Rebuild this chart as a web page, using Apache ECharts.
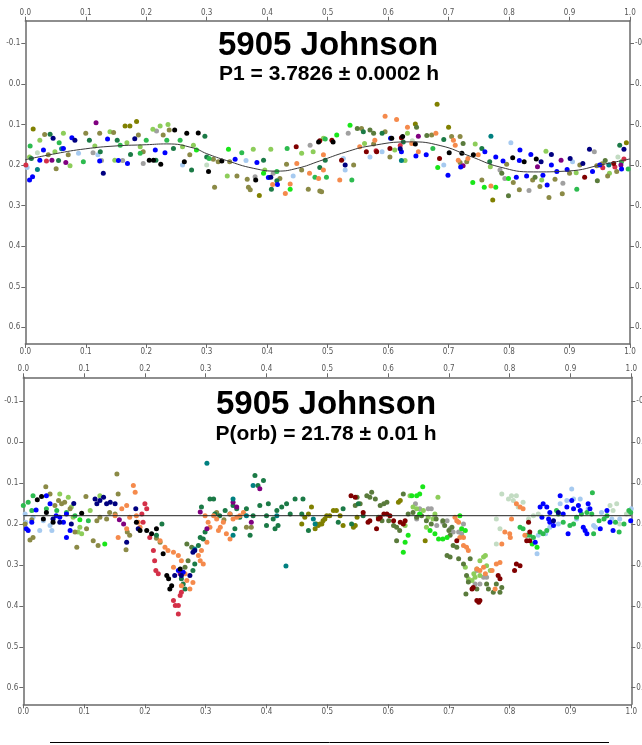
<!DOCTYPE html>
<html>
<head>
<meta charset="utf-8">
<title>5905 Johnson</title>
<script src="https://cdn.jsdelivr.net/npm/echarts@6/dist/echarts.min.js"></script>
<style>
  html, body { margin: 0; padding: 0; background: #fff; }
  #chart { width: 642px; height: 745px; }
</style>
</head>
<body>
<div id="chart"></div>
<script type="text/javascript">
// tick labels
var xTicks = [0, 0.1, 0.2, 0.3, 0.4, 0.5, 0.6, 0.7, 0.8, 0.9, 1.0];
var yTicks = [-0.1, 0, 0.1, 0.2, 0.3, 0.4, 0.5, 0.6];

// ---- upper plot: rotation period (phase, magnitude) per session colour
var topBlue = [[0.007,0.237],[0.012,0.229],[0.024,0.188],[0.03,0.163],[0.063,0.159],[0.077,0.133],[0.123,0.19],[0.136,0.136],[0.154,0.189],[0.169,0.196],[0.215,0.163],[0.231,0.17],[0.347,0.186],[0.383,0.194],[0.402,0.231],[0.417,0.248],[0.604,0.134],[0.622,0.167],[0.646,0.178],[0.663,0.175],[0.699,0.225],[0.76,0.167],[0.778,0.18],[0.812,0.23],[0.817,0.189],[0.818,0.163],[0.829,0.227],[0.836,0.174],[0.856,0.225],[0.863,0.249],[0.879,0.216],[0.896,0.211],[0.938,0.216],[0.986,0.21],[0.72,0.205],[0.79,0.19],[0.87,0.2],[0.95,0.2]];
var topNavy = [[0.046,0.134],[0.082,0.139],[0.129,0.22],[0.181,0.135],[0.406,0.23],[0.529,0.2],[0.853,0.192],[0.87,0.174],[0.901,0.184],[0.922,0.196],[0.933,0.161],[0.99,0.161],[0.62,0.16]];
var topBlack = [[0.205,0.188],[0.212,0.188],[0.224,0.198],[0.247,0.114],[0.263,0.192],[0.267,0.122],[0.286,0.121],[0.303,0.216],[0.325,0.19],[0.381,0.237],[0.485,0.143],[0.509,0.143],[0.606,0.134],[0.624,0.13],[0.645,0.148],[0.701,0.17],[0.722,0.171],[0.741,0.175],[0.806,0.182],[0.825,0.192],[0.845,0.185]];
var topGreen = [[0.008,0.153],[0.056,0.145],[0.096,0.192],[0.157,0.151],[0.19,0.171],[0.2,0.139],[0.234,0.139],[0.256,0.139],[0.304,0.184],[0.358,0.17],[0.416,0.216],[0.433,0.159],[0.479,0.23],[0.496,0.136],[0.498,0.23],[0.54,0.237],[0.674,0.159],[0.912,0.26],[0.986,0.192],[0.997,0.21]];
var topLime = [[0.515,0.126],[0.537,0.102],[0.682,0.206],[0.74,0.243],[0.759,0.255],[0.778,0.255],[0.799,0.233],[0.283,0.163],[0.336,0.161],[0.394,0.22],[0.438,0.26]];
var topDkgreen = [[0.01,0.184],[0.041,0.124],[0.055,0.189],[0.106,0.139],[0.124,0.167],[0.152,0.139],[0.174,0.174],[0.216,0.188],[0.245,0.159],[0.297,0.129],[0.275,0.212],[0.3,0.18],[0.394,0.188],[0.416,0.239],[0.407,0.26],[0.487,0.206],[0.496,0.188],[0.559,0.118],[0.59,0.122],[0.625,0.143],[0.692,0.137],[0.755,0.159],[0.768,0.192],[0.983,0.151]];
var topOlivegreen = [[0.549,0.11],[0.57,0.114],[0.576,0.122],[0.647,0.107],[0.664,0.127],[0.724,0.147],[0.788,0.22],[0.799,0.276],[0.843,0.23],[0.946,0.239],[0.959,0.189]];
var topOlive = [[0.165,0.104],[0.173,0.104],[0.184,0.093],[0.013,0.111],[0.681,0.05],[0.7,0.107],[0.645,0.099],[0.994,0.145],[0.773,0.286],[0.387,0.275]];
var topKhaki = [[0.032,0.125],[0.038,0.175],[0.051,0.209],[0.071,0.175],[0.1,0.122],[0.123,0.122],[0.146,0.12],[0.187,0.126],[0.195,0.167],[0.228,0.126],[0.238,0.114],[0.272,0.175],[0.311,0.186],[0.313,0.255],[0.319,0.192],[0.338,0.192],[0.35,0.227],[0.367,0.235],[0.369,0.255],[0.372,0.261],[0.421,0.233],[0.432,0.198],[0.457,0.212],[0.468,0.26],[0.487,0.264],[0.49,0.266],[0.543,0.2],[0.556,0.11],[0.576,0.148],[0.595,0.118],[0.603,0.18],[0.672,0.126],[0.705,0.13],[0.719,0.13],[0.719,0.194],[0.73,0.192],[0.755,0.237],[0.796,0.198],[0.817,0.261],[0.807,0.243],[0.839,0.237],[0.851,0.253],[0.866,0.28],[0.876,0.235],[0.888,0.271],[0.9,0.22],[0.917,0.2],[0.945,0.202],[0.954,0.197],[0.963,0.227],[0.978,0.216]];
var topLtgreen = [[0.007,0.18],[0.024,0.139],[0.049,0.167],[0.063,0.122],[0.074,0.202],[0.115,0.153],[0.14,0.118],[0.148,0.188],[0.168,0.145],[0.19,0.155],[0.211,0.112],[0.223,0.104],[0.236,0.1],[0.26,0.155],[0.278,0.151],[0.334,0.227],[0.377,0.161],[0.396,0.212],[0.406,0.161],[0.457,0.171],[0.476,0.167],[0.493,0.134],[0.561,0.147],[0.611,0.163],[0.628,0.189],[0.632,0.122],[0.744,0.148],[0.769,0.204],[0.854,0.237],[0.861,0.166],[0.911,0.219],[0.966,0.22]];
var topLtblue = [[0.003,0.206],[0.088,0.171],[0.365,0.189],[0.443,0.227],[0.526,0.184],[0.529,0.212],[0.57,0.18],[0.59,0.167],[0.692,0.2],[0.803,0.145],[0.905,0.192],[0.26,0.2],[0.12,0.175]];
var topGray = [[0.112,0.17],[0.126,0.189],[0.161,0.189],[0.195,0.196],[0.217,0.116],[0.38,0.229],[0.471,0.151],[0.534,0.122],[0.785,0.212],[0.793,0.233],[0.833,0.263],[0.889,0.245],[0.941,0.167],[0.41,0.22]];
var topPale = [[0.02,0.17],[0.3,0.2],[0.64,0.14],[0.98,0.18]];
var topOrange = [[0.409,0.248],[0.438,0.247],[0.449,0.196],[0.485,0.233],[0.493,0.212],[0.493,0.175],[0.52,0.237],[0.553,0.155],[0.578,0.139],[0.595,0.08],[0.614,0.088],[0.632,0.107],[0.639,0.147],[0.65,0.167],[0.679,0.122],[0.708,0.139],[0.711,0.151],[0.716,0.188],[0.732,0.184],[0.749,0.175],[0.77,0.252],[0.47,0.22],[0.43,0.27]];
var topRed = [[0.001,0.2],[0.035,0.19],[0.58,0.165],[0.62,0.152],[0.955,0.207],[0.975,0.205],[0.99,0.185]];
var topDkred = [[0.448,0.155],[0.487,0.14],[0.507,0.139],[0.523,0.188],[0.564,0.167],[0.581,0.167],[0.603,0.159],[0.622,0.133],[0.685,0.184],[0.925,0.23],[0.973,0.196]];
var topPurple = [[0.044,0.188],[0.067,0.194],[0.117,0.096],[0.65,0.129],[0.724,0.202],[0.847,0.204],[0.886,0.188],[0.985,0.2]];
var topTeal = [[0.02,0.211],[0.622,0.189],[0.77,0.129],[0.965,0.2],[0.06,0.16]];
// fitted curve
var topFit = [[0,0.187],[0.05,0.172],[0.1,0.16],[0.15,0.153],[0.2,0.15],[0.234,0.148],[0.278,0.158],[0.3,0.172],[0.333,0.189],[0.377,0.208],[0.416,0.215],[0.45,0.208],[0.487,0.19],[0.53,0.168],[0.57,0.153],[0.636,0.143],[0.686,0.152],[0.735,0.178],[0.785,0.205],[0.84,0.217],[0.895,0.215],[0.96,0.197],[1.0,0.185]];

// ---- lower plot: orbital period
var botLtblue = [[0.003,0.176],[0.004,0.196],[0.016,0.184],[0.027,0.216],[0.044,0.204],[0.047,0.216],[0.049,0.188],[0.033,0.192],[0.845,0.273],[0.847,0.228],[0.859,0.224],[0.866,0.208],[0.883,0.151],[0.894,0.143],[0.902,0.115],[0.905,0.139],[0.91,0.188],[0.916,0.139],[0.929,0.163],[0.938,0.204],[0.941,0.208],[0.951,0.172],[0.957,0.184],[0.968,0.188],[0.981,0.188],[1.0,0.163],[0.88,0.2]];
var botBlue = [[0.005,0.212],[0.008,0.216],[0.014,0.196],[0.021,0.166],[0.038,0.131],[0.044,0.151],[0.054,0.18],[0.06,0.184],[0.066,0.196],[0.071,0.176],[0.077,0.216],[0.071,0.233],[0.255,0.314],[0.263,0.318],[0.85,0.159],[0.855,0.151],[0.861,0.159],[0.866,0.172],[0.853,0.184],[0.864,0.188],[0.872,0.204],[0.866,0.196],[0.883,0.131],[0.888,0.176],[0.896,0.224],[0.894,0.159],[0.902,0.143],[0.905,0.163],[0.913,0.155],[0.916,0.167],[0.921,0.208],[0.924,0.216],[0.927,0.224],[0.929,0.151],[0.932,0.163],[0.949,0.212],[0.96,0.167],[0.965,0.196],[0.97,0.216],[0.999,0.192],[0.842,0.245]];
var botNavy = [[0.049,0.188],[0.06,0.196],[0.083,0.15],[0.079,0.2],[0.118,0.139],[0.126,0.143],[0.132,0.135],[0.137,0.151],[0.143,0.147],[0.151,0.151],[0.121,0.151],[0.17,0.245],[0.185,0.163],[0.189,0.212],[0.249,0.326],[0.26,0.326],[0.274,0.326],[0.279,0.269],[0.282,0.265],[0.872,0.192],[0.88,0.172]];
var botBlack = [[0.023,0.141],[0.03,0.133],[0.038,0.172],[0.033,0.188],[0.096,0.174],[0.049,0.196],[0.186,0.196],[0.192,0.216],[0.203,0.216],[0.211,0.224],[0.219,0.212],[0.23,0.273],[0.236,0.326],[0.239,0.334],[0.244,0.351],[0.241,0.359],[0.258,0.31]];
var botGreen = [[0,0.155],[0.008,0.147],[0.016,0.131],[0.014,0.167],[0.038,0.163],[0.055,0.167],[0.071,0.172],[0.085,0.18],[0.107,0.192],[0.839,0.233],[0.85,0.22],[0.855,0.224],[0.861,0.216],[0.877,0.167],[0.88,0.176],[0.888,0.196],[0.899,0.204],[0.905,0.2],[0.91,0.184],[0.918,0.176],[0.927,0.172],[0.935,0.176],[0.936,0.124],[0.938,0.224],[0.947,0.192],[0.955,0.188],[0.96,0.18],[0.974,0.196],[0.98,0.22],[0.988,0.2],[0.996,0.167],[0.999,0.172],[0.817,0.208],[0.828,0.228],[0.833,0.228],[0.822,0.212]];
var botLime = [[0.134,0.249],[0.093,0.19],[0.628,0.245],[0.625,0.269],[0.633,0.228],[0.639,0.131],[0.647,0.131],[0.652,0.127],[0.657,0.109],[0.652,0.176],[0.669,0.216],[0.677,0.224],[0.683,0.237],[0.69,0.237],[0.697,0.233],[0.718,0.18],[0.721,0.212],[0.727,0.216],[0.837,0.249],[0.845,0.257]];
var botKhaki = [[0.003,0.2],[0.011,0.239],[0.016,0.233],[0.014,0.19],[0.037,0.109],[0.044,0.127],[0.052,0.155],[0.058,0.143],[0.063,0.151],[0.068,0.147],[0.077,0.163],[0.085,0.22],[0.088,0.257],[0.103,0.133],[0.104,0.212],[0.121,0.192],[0.115,0.241],[0.123,0.253],[0.126,0.184],[0.137,0.188],[0.142,0.172],[0.151,0.176],[0.154,0.078],[0.169,0.263],[0.171,0.22],[0.156,0.127],[0.175,0.228],[0.225,0.245],[0.219,0.235],[0.318,0.172],[0.367,0.208],[0.375,0.208],[0.33,0.19]];
var botLtgreen = [[0.06,0.127],[0.074,0.135],[0.079,0.159],[0.082,0.184],[0.093,0.208],[0.09,0.22],[0.096,0.224],[0.126,0.131],[0.11,0.167],[0.628,0.204],[0.636,0.131],[0.641,0.159],[0.647,0.163],[0.652,0.176],[0.658,0.167],[0.666,0.184],[0.674,0.188],[0.677,0.176],[0.682,0.135],[0.663,0.208],[0.727,0.306],[0.732,0.334],[0.738,0.338],[0.743,0.33],[0.746,0.31],[0.751,0.29],[0.757,0.281],[0.76,0.277],[0.762,0.302],[0.768,0.314],[0.751,0.326],[0.741,0.322]];
var botOrange = [[0.151,0.18],[0.156,0.233],[0.162,0.163],[0.17,0.155],[0.175,0.184],[0.181,0.106],[0.184,0.123],[0.186,0.18],[0.189,0.196],[0.192,0.208],[0.17,0.212],[0.225,0.241],[0.233,0.257],[0.238,0.265],[0.247,0.269],[0.255,0.277],[0.26,0.29],[0.247,0.306],[0.266,0.322],[0.269,0.338],[0.274,0.359],[0.279,0.343],[0.26,0.351],[0.288,0.277],[0.291,0.29],[0.296,0.298],[0.293,0.265],[0.302,0.245],[0.307,0.208],[0.299,0.18],[0.304,0.196],[0.313,0.18],[0.318,0.188],[0.324,0.208],[0.329,0.196],[0.334,0.224],[0.34,0.176],[0.345,0.188],[0.351,0.184],[0.356,0.18],[0.362,0.172],[0.34,0.237],[0.321,0.216],[0.71,0.184],[0.713,0.192],[0.716,0.196],[0.718,0.233],[0.724,0.233],[0.729,0.257],[0.732,0.265],[0.724,0.253],[0.746,0.31],[0.751,0.314],[0.757,0.306],[0.76,0.322],[0.771,0.314],[0.776,0.359],[0.778,0.298],[0.784,0.294],[0.787,0.249],[0.792,0.22],[0.8,0.224],[0.801,0.233],[0.803,0.188],[0.811,0.151],[0.817,0.159],[0.822,0.163],[0.825,0.228]];
var botRed = [[0.2,0.151],[0.203,0.163],[0.195,0.176],[0.197,0.196],[0.208,0.233],[0.214,0.265],[0.216,0.29],[0.218,0.314],[0.222,0.322],[0.247,0.387],[0.25,0.399],[0.255,0.399],[0.255,0.42],[0.258,0.375],[0.26,0.367]];
var botDkgreen = [[0.228,0.2],[0.219,0.228],[0.26,0.334],[0.263,0.347],[0.266,0.359],[0.279,0.314],[0.282,0.298],[0.288,0.253],[0.291,0.233],[0.296,0.237],[0.299,0.22],[0.293,0.159],[0.307,0.139],[0.313,0.139],[0.315,0.176],[0.323,0.18],[0.34,0.176],[0.351,0.163],[0.356,0.184],[0.367,0.163],[0.378,0.18],[0.381,0.082],[0.395,0.094],[0.386,0.106],[0.389,0.155],[0.4,0.18],[0.403,0.151],[0.411,0.188],[0.417,0.167],[0.419,0.204],[0.425,0.159],[0.433,0.151],[0.439,0.176],[0.447,0.139],[0.458,0.176],[0.46,0.139],[0.373,0.228],[0.348,0.212],[0.414,0.212],[0.332,0.167],[0.345,0.155],[0.4,0.204],[0.469,0.216],[0.518,0.196],[0.526,0.163],[0.54,0.2],[0.551,0.151],[0.559,0.18]];
var botOlivegreen = [[0.269,0.249],[0.277,0.257],[0.271,0.29],[0.266,0.306],[0.546,0.155],[0.549,0.135],[0.554,0.151],[0.565,0.131],[0.57,0.135],[0.573,0.123],[0.579,0.139],[0.587,0.155],[0.593,0.151],[0.598,0.147],[0.584,0.184],[0.59,0.192],[0.601,0.192],[0.609,0.204],[0.614,0.208],[0.619,0.216],[0.614,0.241],[0.625,0.127],[0.633,0.176],[0.641,0.172],[0.647,0.184],[0.655,0.18],[0.663,0.192],[0.671,0.2],[0.679,0.188],[0.69,0.192],[0.693,0.204],[0.7,0.216],[0.705,0.208],[0.702,0.228],[0.707,0.253],[0.713,0.257],[0.697,0.277],[0.702,0.281],[0.716,0.285],[0.724,0.298],[0.735,0.285],[0.729,0.326],[0.732,0.342],[0.728,0.371],[0.746,0.359],[0.762,0.347],[0.765,0.359],[0.773,0.367],[0.778,0.347],[0.787,0.355],[0.784,0.367]];
var botOlive = [[0.458,0.2],[0.463,0.184],[0.469,0.176],[0.474,0.159],[0.482,0.2],[0.488,0.2],[0.493,0.192],[0.48,0.212],[0.485,0.204],[0.499,0.18],[0.491,0.2],[0.496,0.188],[0.504,0.18],[0.51,0.167],[0.515,0.167],[0.521,0.18],[0.526,0.204],[0.543,0.208],[0.546,0.204],[0.549,0.184],[0.62,0.143],[0.617,0.147],[0.661,0.241]];
var botDkred = [[0.539,0.131],[0.546,0.135],[0.559,0.172],[0.567,0.196],[0.57,0.192],[0.584,0.188],[0.587,0.184],[0.593,0.176],[0.598,0.176],[0.603,0.18],[0.581,0.212],[0.609,0.192],[0.62,0.196],[0.625,0.2],[0.628,0.192],[0.713,0.241],[0.738,0.359],[0.74,0.355],[0.746,0.387],[0.751,0.387],[0.749,0.391],[0.781,0.326],[0.784,0.334],[0.811,0.298],[0.817,0.302],[0.808,0.314],[0.831,0.196],[0.828,0.241],[0.833,0.241],[0.833,0.22]];
var botGray = [[0.645,0.151],[0.647,0.188],[0.652,0.163],[0.666,0.163],[0.671,0.163],[0.677,0.184],[0.68,0.204],[0.69,0.196],[0.697,0.192],[0.702,0.212],[0.707,0.22],[0.716,0.22],[0.721,0.224],[0.724,0.2],[0.757,0.33],[0.762,0.33],[0.751,0.347],[0.743,0.347],[0.746,0.314]];
var botPale = [[0.778,0.188],[0.784,0.212],[0.778,0.249],[0.787,0.127],[0.798,0.139],[0.803,0.131],[0.811,0.131],[0.806,0.143],[0.814,0.159],[0.822,0.147],[0.831,0.188],[0.839,0.18],[0.847,0.176],[0.965,0.155],[0.97,0.167],[0.981,0.2],[0.976,0.151],[0.992,0.176]];
var botPurple = [[0.345,0.147],[0.351,0.159],[0.375,0.196],[0.389,0.114],[0.302,0.212],[0.291,0.171],[0.258,0.322],[0.158,0.19],[0.165,0.2]];
var botTeal = [[0.282,0.261],[0.302,0.052],[0.432,0.303],[0.345,0.228],[0.345,0.139],[0.378,0.106],[0.367,0.18],[0.417,0.18],[0.477,0.188],[0.48,0.2]];
var botMean = [[0, 0.18], [1, 0.18]];

var C = {
  blue: '#0000ff', navy: '#000080', black: '#000000', lime: '#19e619',
  green: '#2dbb4f', dkgreen: '#1b7a46', olivegreen: '#5a7b3c', olive: '#808000',
  khaki: '#8b8a46', ltgreen: '#8dcd5a', ltblue: '#a6caf0', gray: '#a0a0a0',
  pale: '#c3dcc3', orange: '#f58a4c', red: '#d43048', dkred: '#800000',
  purple: '#800080', teal: '#008080'
};

var chart = echarts.init(document.getElementById('chart'), null, { renderer: 'canvas' });

var lblFont = { fontSize: 8, color: '#555', fontFamily: 'Liberation Sans Narrow, DejaVu Sans Condensed, sans-serif' };
var axLine = { show: true, onZero: false, lineStyle: { color: '#6a6a6a', width: 1.5 } };
var axTick = { show: true, length: 4, lineStyle: { color: '#6a6a6a', width: 1 } };
function fmt(v) { return (Math.abs(v) < 1e-9 ? 0 : v).toFixed(1); }

function xAx(grid, pos) {
  return {
    type: 'value', gridIndex: grid, position: pos, min: 0, max: 1, interval: 0.1,
    axisLine: axLine, axisTick: axTick, splitLine: { show: false },
    axisLabel: Object.assign({ margin: 4, formatter: fmt, customValues: xTicks }, lblFont)
  };
}
function yAx(grid, pos, lo, hi) {
  return {
    type: 'value', gridIndex: grid, position: pos, inverse: true, min: lo, max: hi,
    axisLine: axLine, splitLine: { show: false },
    axisTick: Object.assign({ customValues: yTicks }, axTick),
    axisLabel: Object.assign({ margin: 5, formatter: fmt, customValues: yTicks }, lblFont)
  };
}

function pts(data, col, idx) {
  return {
    type: 'scatter', data: data, xAxisIndex: idx, yAxisIndex: idx,
    symbol: 'circle', symbolSize: 5, itemStyle: { color: col, opacity: 1 },
    silent: true, z: 2
  };
}

var topSets = [[topPale, C.pale], [topLtblue, C.ltblue], [topGray, C.gray], [topLtgreen, C.ltgreen],
  [topKhaki, C.khaki], [topOlive, C.olive], [topOlivegreen, C.olivegreen], [topDkgreen, C.dkgreen],
  [topGreen, C.green], [topLime, C.lime], [topOrange, C.orange], [topRed, C.red], [topDkred, C.dkred],
  [topPurple, C.purple], [topTeal, C.teal], [topBlue, C.blue], [topNavy, C.navy], [topBlack, C.black]];
var botSets = [[botPale, C.pale], [botLtblue, C.ltblue], [botGray, C.gray], [botLtgreen, C.ltgreen],
  [botKhaki, C.khaki], [botOlive, C.olive], [botOlivegreen, C.olivegreen], [botDkgreen, C.dkgreen],
  [botGreen, C.green], [botLime, C.lime], [botOrange, C.orange], [botRed, C.red], [botDkred, C.dkred],
  [botPurple, C.purple], [botTeal, C.teal], [botBlue, C.blue], [botNavy, C.navy], [botBlack, C.black]];

// grid 0 uses xAxis/yAxis 0, grid 1 uses xAxis/yAxis 2
var series = [];
topSets.forEach(function (s) { series.push(pts(s[0], s[1], 0)); });
botSets.forEach(function (s) { series.push(pts(s[0], s[1], 2)); });
series.push({
  type: 'line', data: topFit, xAxisIndex: 0, yAxisIndex: 0, smooth: 0.5, symbol: 'none',
  lineStyle: { color: '#3a3a3a', width: 1 }, silent: true, z: 5
});
series.push({
  type: 'line', data: botMean, xAxisIndex: 2, yAxisIndex: 2, symbol: 'none',
  lineStyle: { color: '#222', width: 1 }, silent: true, z: 5
});

var titleFont = 'Liberation Sans, Arial, sans-serif';
function txt(s, x, y, size) {
  return {
    type: 'text', x: x, y: y, z: 10,
    style: { text: s, fill: '#000', font: 'bold ' + size + 'px ' + titleFont, textAlign: 'center', textVerticalAlign: 'middle' }
  };
}

var option = {
  animation: false,
  backgroundColor: '#fff',
  grid: [
    { left: 25.3, right: 12, top: 20.7, bottom: 401, containLabel: false, outerBoundsMode: 'none' },
    { left: 23.3, right: 10.7, top: 377.3, bottom: 40.7, containLabel: false, outerBoundsMode: 'none' }
  ],
  xAxis: [xAx(0, 'bottom'), xAx(0, 'top'), xAx(1, 'bottom'), xAx(1, 'top')],
  yAxis: [yAx(0, 'left', -0.1556, 0.641), yAx(0, 'right', -0.1556, 0.641),
          yAx(1, 'left', -0.158, 0.6405), yAx(1, 'right', -0.158, 0.6405)],
  series: series,
  graphic: [
    txt('5905 Johnson', 328, 46, 33),
    txt('P1 = 3.7826 \u00b1 0.0002 h', 329, 74, 21),
    txt('5905 Johnson', 326, 405, 33),
    txt('P(orb) = 21.78 \u00b1 0.01 h', 326, 434, 21),
    { type: 'line', shape: { x1: 50, y1: 742.5, x2: 609, y2: 742.5 }, style: { stroke: '#000', lineWidth: 1 } }
  ]
};
chart.setOption(option);
</script>
</body>
</html>
